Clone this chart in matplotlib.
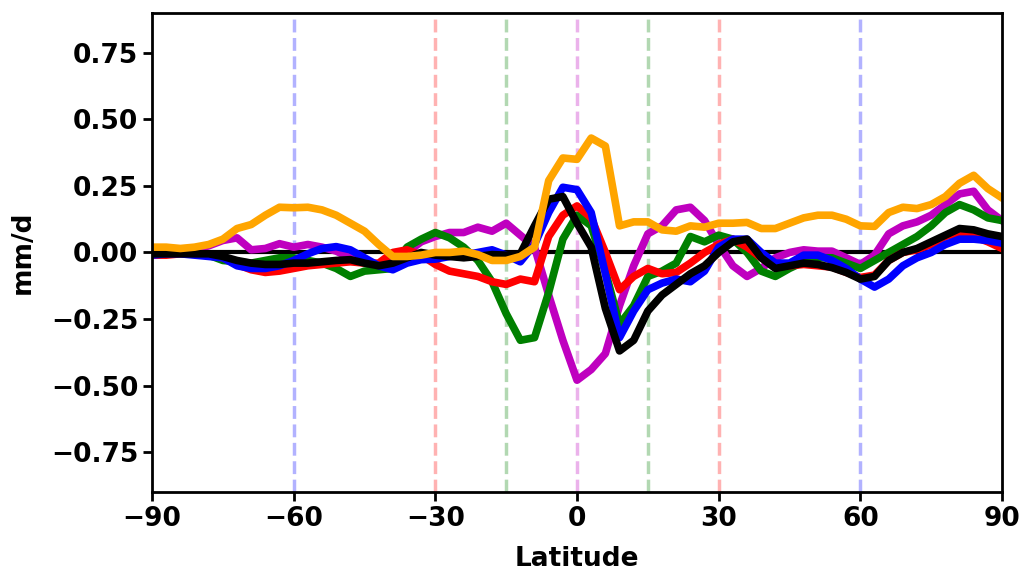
import matplotlib
matplotlib.use('Agg')
import matplotlib.pyplot as plt

# Latitude grid (deg)
lats = [-90, -87, -84, -81, -78, -75, -72, -69, -66, -63, -60, -57, -54, -51, -48, -45,
        -42, -39, -36, -33, -30, -27, -24, -21, -18, -15, -12, -9, -6, -3, 0,
        3, 6, 9, 12, 15, 18, 21, 24, 27, 30, 33, 36, 39, 42, 45, 48, 51, 54, 57,
        60, 63, 66, 69, 72, 75, 78, 81, 84, 87, 90]

# mm/d anomalies
magenta = [0.0, 0.0, 0.005, 0.01, 0.025, 0.045, 0.055, 0.01, 0.015, 0.033, 0.02, 0.03, 0.02, 0.005, -0.02, -0.04,
           -0.045, -0.03, 0.0, 0.04, 0.06, 0.075, 0.075, 0.095, 0.08, 0.11, 0.065, 0.02, -0.16, -0.33, -0.48,
           -0.44, -0.38, -0.2, -0.05, 0.07, 0.1, 0.16, 0.17, 0.12, 0.03, -0.05, -0.09, -0.06, -0.02, 0.0, 0.01,
           0.005, 0.005, -0.02, -0.045, -0.01, 0.07, 0.1, 0.115, 0.14, 0.18, 0.22, 0.23, 0.16, 0.12]
green = [0.0, 0.0, 0.0, -0.005, -0.01, -0.03, -0.035, -0.04, -0.03, -0.02, -0.02, -0.03, -0.04, -0.06, -0.09, -0.07,
         -0.065, -0.06, 0.02, 0.05, 0.075, 0.055, 0.02, -0.03, -0.11, -0.23, -0.33, -0.32, -0.15, 0.05, 0.14,
         0.1, -0.07, -0.27, -0.2, -0.09, -0.07, -0.04, 0.06, 0.04, 0.065, 0.05, 0.0, -0.07, -0.09, -0.06, -0.035,
         -0.02, -0.02, -0.04, -0.06, -0.03, 0.0, 0.03, 0.06, 0.1, 0.15, 0.18, 0.16, 0.13, 0.12]
red = [-0.01, -0.01, -0.005, -0.005, -0.01, -0.02, -0.045, -0.065, -0.075, -0.07, -0.06, -0.05, -0.045, -0.04, -0.035, -0.04,
       -0.04, 0.0, 0.01, -0.01, -0.045, -0.07, -0.08, -0.09, -0.11, -0.12, -0.1, -0.11, 0.06, 0.14, 0.175,
       0.13, 0.0, -0.14, -0.09, -0.06, -0.08, -0.075, -0.04, 0.0, 0.03, 0.05, 0.02, -0.02, -0.05, -0.05, -0.045,
       -0.05, -0.055, -0.075, -0.094, -0.085, -0.03, 0.0, 0.01, 0.03, 0.06, 0.075, 0.06, 0.04, 0.015]
blue = [-0.01, -0.005, -0.005, -0.01, -0.015, -0.02, -0.05, -0.06, -0.06, -0.05, -0.03, -0.005, 0.015, 0.022, 0.01, -0.02,
        -0.05, -0.065, -0.04, -0.027, -0.025, -0.015, -0.01, 0.0, 0.01, -0.01, -0.035, 0.03, 0.15, 0.245, 0.236,
        0.15, -0.08, -0.32, -0.22, -0.14, -0.115, -0.1, -0.11, -0.07, 0.02, 0.05, 0.05, 0.0, -0.04, -0.04, -0.01,
        -0.01, -0.03, -0.06, -0.1, -0.13, -0.1, -0.05, -0.02, 0.0, 0.03, 0.05, 0.05, 0.045, 0.035]
black = [-0.005, -0.005, -0.005, -0.005, -0.005, -0.015, -0.03, -0.04, -0.045, -0.045, -0.04, -0.04, -0.035, -0.03, -0.027, -0.04,
         -0.05, -0.04, -0.02, 0.0, -0.01, -0.015, -0.02, -0.015, -0.008, -0.01, -0.005, 0.1, 0.2, 0.21, 0.11,
         0.02, -0.21, -0.37, -0.33, -0.22, -0.16, -0.12, -0.08, -0.05, 0.0, 0.04, 0.05, -0.02, -0.06, -0.05, -0.04,
         -0.045, -0.057, -0.075, -0.1, -0.09, -0.03, 0.0, 0.015, 0.04, 0.065, 0.09, 0.085, 0.07, 0.06]
orange = [0.02, 0.02, 0.015, 0.02, 0.03, 0.05, 0.09, 0.105, 0.14, 0.17, 0.168, 0.17, 0.16, 0.14, 0.11, 0.08,
          0.03, -0.015, -0.015, -0.01, 0.0, 0.0, 0.005, -0.008, -0.03, -0.03, -0.015, 0.02, 0.27, 0.355, 0.35,
          0.43, 0.40, 0.1, 0.115, 0.115, 0.085, 0.08, 0.1, 0.095, 0.11, 0.11, 0.113, 0.09, 0.09, 0.11, 0.13,
          0.14, 0.14, 0.125, 0.1, 0.098, 0.15, 0.17, 0.165, 0.18, 0.21, 0.26, 0.29, 0.24, 0.205]

# reference latitudes and their colours
ref_lats = [-60, -30, -15, 0, 15, 30, 60]
ref_cols = ['b', 'r', 'g', 'm', 'g', 'r', 'b']

plt.rcParams['font.weight'] = 'bold'
plt.rcParams['axes.labelweight'] = 'bold'
plt.rcParams['font.size'] = 19

fig, ax = plt.subplots(figsize=(10.23, 5.74), dpi=100)
fig.subplots_adjust(left=0.1486, right=0.9795, top=0.9774, bottom=0.1429)

for lat, c in zip(ref_lats, ref_cols):
    ax.axvline(lat, color=c, alpha=0.3, linestyle='--', linewidth=2.5)
ax.axhline(0, color='k', linewidth=3)

lw = 5.5
ax.plot(lats, magenta, color='m', linewidth=lw)
ax.plot(lats, green, color='g', linewidth=lw)
ax.plot(lats, red, color='r', linewidth=lw)
ax.plot(lats, blue, color='b', linewidth=lw)
ax.plot(lats, black, color='k', linewidth=lw)
ax.plot(lats, orange, color='orange', linewidth=lw)

ax.set_xlim(-90, 90)
ax.set_ylim(-0.9, 0.9)
ax.set_xticks([-90, -60, -30, 0, 30, 60, 90])
ax.set_yticks([-0.75, -0.5, -0.25, 0, 0.25, 0.5, 0.75])
ax.set_xlabel('Latitude', labelpad=10)
ax.set_ylabel('mm/d', labelpad=11)
for s in ax.spines.values():
    s.set_linewidth(2)
ax.tick_params(width=2, length=6.5)

fig.savefig('out.png', dpi=100)
